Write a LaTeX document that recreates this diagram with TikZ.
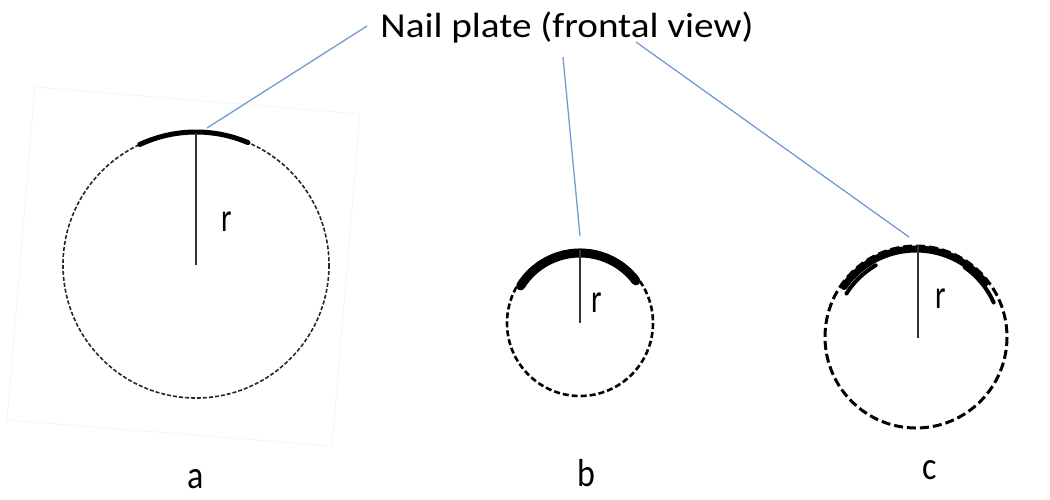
\documentclass[tikz,border=0pt]{standalone}
\usepackage{fontspec}
\setmainfont{Carlito}
\definecolor{leader}{RGB}{115,155,210}
\definecolor{faint}{RGB}{244,244,244}
\begin{document}
\begin{tikzpicture}[x=1pt,y=-1pt,
  leaderline/.style={draw=leader,line width=1.3pt},
  radline/.style={draw=black!80,line width=1.2pt},
  lbl/.style={font=\fontsize{34}{36}\selectfont,inner sep=0pt,yscale=1.15},
  rlbl/.style={font=\fontsize{30}{32}\selectfont,inner sep=0pt,yscale=1.35},
  plate/.style={line cap=round}]
\useasboundingbox (0,0) rectangle (1050,499);
% faint frame around a
\draw[faint,line width=0.8pt] (35,87) -- (360,114) -- (332,446) -- (7,420) -- cycle;
% title
\node[font=\fontsize{35}{37}\selectfont,inner sep=0pt,xscale=1.12] (title) at (567,28) {Nail plate (frontal view)};
% circle a
\coordinate (ca) at (196,265);
\coordinate (ta) at (196,133);
\draw[black!85,line width=1.6pt,dash pattern=on 4pt off 2pt] (ca) circle[radius=133];
\draw[plate,line width=5pt] ([shift={(-115:133)}]196,265) arc[start angle=-115,end angle=-67,radius=133];
\draw[radline] (ta) -- (ca);
\node[rlbl] (ra) at (227,222) {r};
\node[lbl] (la) at (196,479) {a};
% circle b
\coordinate (cb) at (580,323);
\coordinate (tb) at (580,250);
\draw[black,line width=2.6pt,dash pattern=on 6pt off 3pt] (cb) circle[radius=73];
\draw[plate,line width=9pt] ([shift={(-148:70)}]580,323) arc[start angle=-148,end angle=-37,radius=70];
\draw[radline] (tb) -- (cb);
\node[rlbl] (rb) at (597,303) {r};
\node[lbl] (lb) at (586,473) {b};
% circle c
\coordinate (cc) at (916,337);
\coordinate (tc) at (918,245);
\draw[black,line width=3pt,dash pattern=on 9pt off 4pt] (cc) circle[radius=91];
\draw[plate,line width=7pt] ([shift={(-145:88)}]916,337) arc[start angle=-145,end angle=-38,radius=88];
\draw[plate,line width=4pt] ([shift={(-148:82)}]916,337) arc[start angle=-148,end angle=-120,radius=84];
\draw[plate,line width=4pt] ([shift={(-55:85)}]916,337) arc[start angle=-55,end angle=-24,radius=85];
\draw[radline] (tc) -- (918,338);
\node[rlbl] (rc) at (941,299) {r};
\node[lbl] (lc) at (930,470) {c};
% leader lines
\coordinate (s1) at (367,26);
\coordinate (s2) at (563,57);
\coordinate (s3) at (636,42);
\coordinate (e1) at (207,128);
\coordinate (e2) at (580,236);
\coordinate (e3) at (909,237);
\draw[leaderline] (s1) -- (e1);
\draw[leaderline] (s2) -- (e2);
\draw[leaderline] (s3) -- (e3);
\end{tikzpicture}
\end{document}
